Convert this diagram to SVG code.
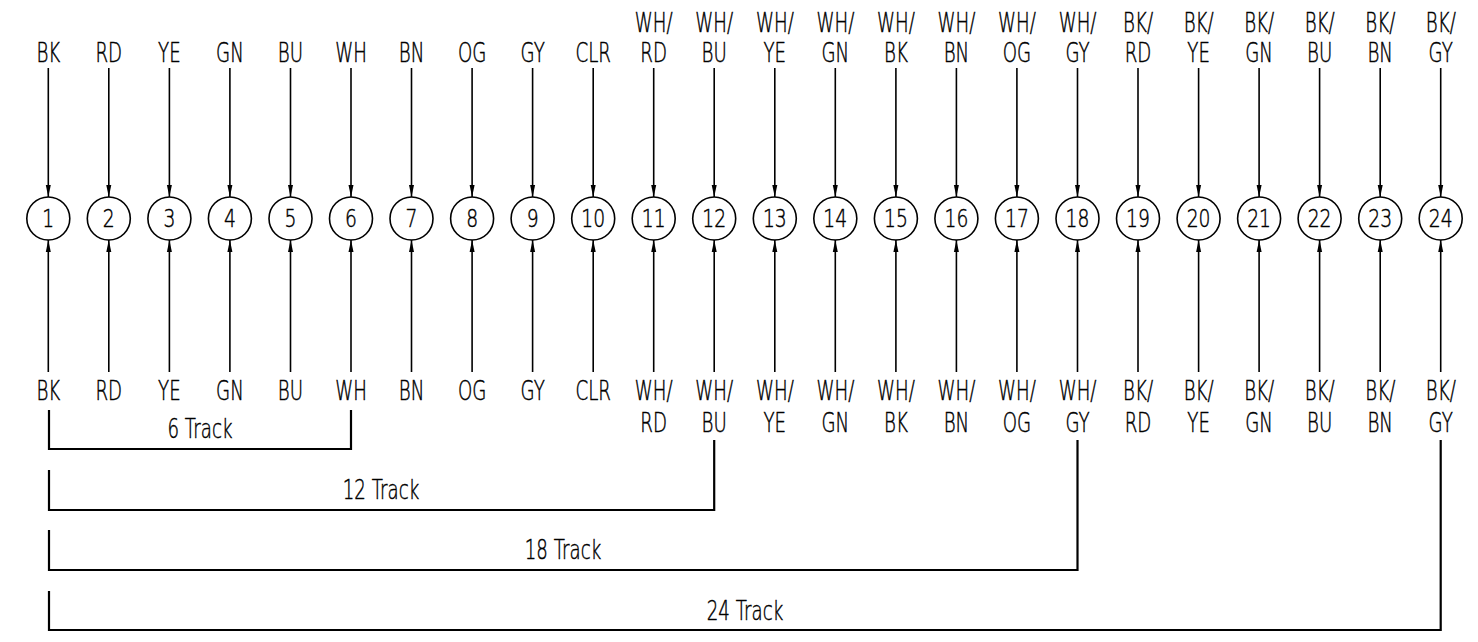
<svg xmlns="http://www.w3.org/2000/svg" width="1478" height="642" viewBox="0 0 1478 642">
<style>
text{font-family:"DejaVu Sans",sans-serif;font-weight:200;font-size:26px;fill:#000;stroke:#000;stroke-width:0.5;text-anchor:middle;transform-box:fill-box;transform-origin:center;transform:scaleX(0.7)}
.n{font-size:25px;transform:scaleX(0.75)}
circle{fill:#fff;stroke:#000;stroke-width:1.6}
.w{stroke:#000;stroke-width:1.6;fill:none;marker-end:url(#ah)}
.b{stroke:#000;stroke-width:2.2;fill:none}
</style>
<defs>
<marker id="ah" markerUnits="userSpaceOnUse" markerWidth="12" markerHeight="6" refX="12" refY="3" orient="auto">
<path d="M0,0.5 L12,3 L0,5.5 z" fill="#000"/>
</marker>
</defs>
<g id="connectors">
<path class="w" d="M48.3,68V197"/><path class="w" d="M48.3,372V240"/>
<path class="w" d="M108.8,68V197"/><path class="w" d="M108.8,372V240"/>
<path class="w" d="M169.4,68V197"/><path class="w" d="M169.4,372V240"/>
<path class="w" d="M229.9,68V197"/><path class="w" d="M229.9,372V240"/>
<path class="w" d="M290.5,68V197"/><path class="w" d="M290.5,372V240"/>
<path class="w" d="M351,68V197"/><path class="w" d="M351,372V240"/>
<path class="w" d="M411.5,68V197"/><path class="w" d="M411.5,372V240"/>
<path class="w" d="M472.1,68V197"/><path class="w" d="M472.1,372V240"/>
<path class="w" d="M532.6,68V197"/><path class="w" d="M532.6,372V240"/>
<path class="w" d="M593.2,68V197"/><path class="w" d="M593.2,372V240"/>
<path class="w" d="M653.7,68V197"/><path class="w" d="M653.7,372V240"/>
<path class="w" d="M714.2,68V197"/><path class="w" d="M714.2,372V240"/>
<path class="w" d="M774.8,68V197"/><path class="w" d="M774.8,372V240"/>
<path class="w" d="M835.3,68V197"/><path class="w" d="M835.3,372V240"/>
<path class="w" d="M895.9,68V197"/><path class="w" d="M895.9,372V240"/>
<path class="w" d="M956.4,68V197"/><path class="w" d="M956.4,372V240"/>
<path class="w" d="M1016.9,68V197"/><path class="w" d="M1016.9,372V240"/>
<path class="w" d="M1077.5,68V197"/><path class="w" d="M1077.5,372V240"/>
<path class="w" d="M1138,68V197"/><path class="w" d="M1138,372V240"/>
<path class="w" d="M1198.6,68V197"/><path class="w" d="M1198.6,372V240"/>
<path class="w" d="M1259.1,68V197"/><path class="w" d="M1259.1,372V240"/>
<path class="w" d="M1319.6,68V197"/><path class="w" d="M1319.6,372V240"/>
<path class="w" d="M1380.2,68V197"/><path class="w" d="M1380.2,372V240"/>
<path class="w" d="M1440.7,68V197"/><path class="w" d="M1440.7,372V240"/>
</g>
<g id="brackets">
<path class="b" d="M49,410V449H351V410"/>
<path class="b" d="M49,470V510H714.2V440"/>
<path class="b" d="M49,530V570H1077.5V440"/>
<path class="b" d="M49,591V630H1440.7V440"/>
<text x="200" y="438">6 Track</text>
<text x="381" y="499">12 Track</text>
<text x="563" y="559">18 Track</text>
<text x="745" y="620">24 Track</text>
</g>
<g id="n1"><text x="48.3" y="62">BK</text><circle cx="48.3" cy="218.5" r="21.5"/><text class="n" x="48.3" y="227">1</text><text x="48.3" y="400">BK</text></g>
<g id="n2"><text x="108.8" y="62">RD</text><circle cx="108.8" cy="218.5" r="21.5"/><text class="n" x="108.8" y="227">2</text><text x="108.8" y="400">RD</text></g>
<g id="n3"><text x="169.4" y="62">YE</text><circle cx="169.4" cy="218.5" r="21.5"/><text class="n" x="169.4" y="227">3</text><text x="169.4" y="400">YE</text></g>
<g id="n4"><text x="229.9" y="62">GN</text><circle cx="229.9" cy="218.5" r="21.5"/><text class="n" x="229.9" y="227">4</text><text x="229.9" y="400">GN</text></g>
<g id="n5"><text x="290.5" y="62">BU</text><circle cx="290.5" cy="218.5" r="21.5"/><text class="n" x="290.5" y="227">5</text><text x="290.5" y="400">BU</text></g>
<g id="n6"><text x="351" y="62">WH</text><circle cx="351" cy="218.5" r="21.5"/><text class="n" x="351" y="227">6</text><text x="351" y="400">WH</text></g>
<g id="n7"><text x="411.5" y="62">BN</text><circle cx="411.5" cy="218.5" r="21.5"/><text class="n" x="411.5" y="227">7</text><text x="411.5" y="400">BN</text></g>
<g id="n8"><text x="472.1" y="62">OG</text><circle cx="472.1" cy="218.5" r="21.5"/><text class="n" x="472.1" y="227">8</text><text x="472.1" y="400">OG</text></g>
<g id="n9"><text x="532.6" y="62">GY</text><circle cx="532.6" cy="218.5" r="21.5"/><text class="n" x="532.6" y="227">9</text><text x="532.6" y="400">GY</text></g>
<g id="n10"><text x="593.2" y="62">CLR</text><circle cx="593.2" cy="218.5" r="21.5"/><text class="n" x="593.2" y="227">10</text><text x="593.2" y="400">CLR</text></g>
<g id="n11"><text x="653.7" y="32">WH/</text><text x="653.7" y="62">RD</text><circle cx="653.7" cy="218.5" r="21.5"/><text class="n" x="653.7" y="227">11</text><text x="653.7" y="400">WH/</text><text x="653.7" y="432">RD</text></g>
<g id="n12"><text x="714.2" y="32">WH/</text><text x="714.2" y="62">BU</text><circle cx="714.2" cy="218.5" r="21.5"/><text class="n" x="714.2" y="227">12</text><text x="714.2" y="400">WH/</text><text x="714.2" y="432">BU</text></g>
<g id="n13"><text x="774.8" y="32">WH/</text><text x="774.8" y="62">YE</text><circle cx="774.8" cy="218.5" r="21.5"/><text class="n" x="774.8" y="227">13</text><text x="774.8" y="400">WH/</text><text x="774.8" y="432">YE</text></g>
<g id="n14"><text x="835.3" y="32">WH/</text><text x="835.3" y="62">GN</text><circle cx="835.3" cy="218.5" r="21.5"/><text class="n" x="835.3" y="227">14</text><text x="835.3" y="400">WH/</text><text x="835.3" y="432">GN</text></g>
<g id="n15"><text x="895.9" y="32">WH/</text><text x="895.9" y="62">BK</text><circle cx="895.9" cy="218.5" r="21.5"/><text class="n" x="895.9" y="227">15</text><text x="895.9" y="400">WH/</text><text x="895.9" y="432">BK</text></g>
<g id="n16"><text x="956.4" y="32">WH/</text><text x="956.4" y="62">BN</text><circle cx="956.4" cy="218.5" r="21.5"/><text class="n" x="956.4" y="227">16</text><text x="956.4" y="400">WH/</text><text x="956.4" y="432">BN</text></g>
<g id="n17"><text x="1016.9" y="32">WH/</text><text x="1016.9" y="62">OG</text><circle cx="1016.9" cy="218.5" r="21.5"/><text class="n" x="1016.9" y="227">17</text><text x="1016.9" y="400">WH/</text><text x="1016.9" y="432">OG</text></g>
<g id="n18"><text x="1077.5" y="32">WH/</text><text x="1077.5" y="62">GY</text><circle cx="1077.5" cy="218.5" r="21.5"/><text class="n" x="1077.5" y="227">18</text><text x="1077.5" y="400">WH/</text><text x="1077.5" y="432">GY</text></g>
<g id="n19"><text x="1138" y="32">BK/</text><text x="1138" y="62">RD</text><circle cx="1138" cy="218.5" r="21.5"/><text class="n" x="1138" y="227">19</text><text x="1138" y="400">BK/</text><text x="1138" y="432">RD</text></g>
<g id="n20"><text x="1198.6" y="32">BK/</text><text x="1198.6" y="62">YE</text><circle cx="1198.6" cy="218.5" r="21.5"/><text class="n" x="1198.6" y="227">20</text><text x="1198.6" y="400">BK/</text><text x="1198.6" y="432">YE</text></g>
<g id="n21"><text x="1259.1" y="32">BK/</text><text x="1259.1" y="62">GN</text><circle cx="1259.1" cy="218.5" r="21.5"/><text class="n" x="1259.1" y="227">21</text><text x="1259.1" y="400">BK/</text><text x="1259.1" y="432">GN</text></g>
<g id="n22"><text x="1319.6" y="32">BK/</text><text x="1319.6" y="62">BU</text><circle cx="1319.6" cy="218.5" r="21.5"/><text class="n" x="1319.6" y="227">22</text><text x="1319.6" y="400">BK/</text><text x="1319.6" y="432">BU</text></g>
<g id="n23"><text x="1380.2" y="32">BK/</text><text x="1380.2" y="62">BN</text><circle cx="1380.2" cy="218.5" r="21.5"/><text class="n" x="1380.2" y="227">23</text><text x="1380.2" y="400">BK/</text><text x="1380.2" y="432">BN</text></g>
<g id="n24"><text x="1440.7" y="32">BK/</text><text x="1440.7" y="62">GY</text><circle cx="1440.7" cy="218.5" r="21.5"/><text class="n" x="1440.7" y="227">24</text><text x="1440.7" y="400">BK/</text><text x="1440.7" y="432">GY</text></g>
</svg>
